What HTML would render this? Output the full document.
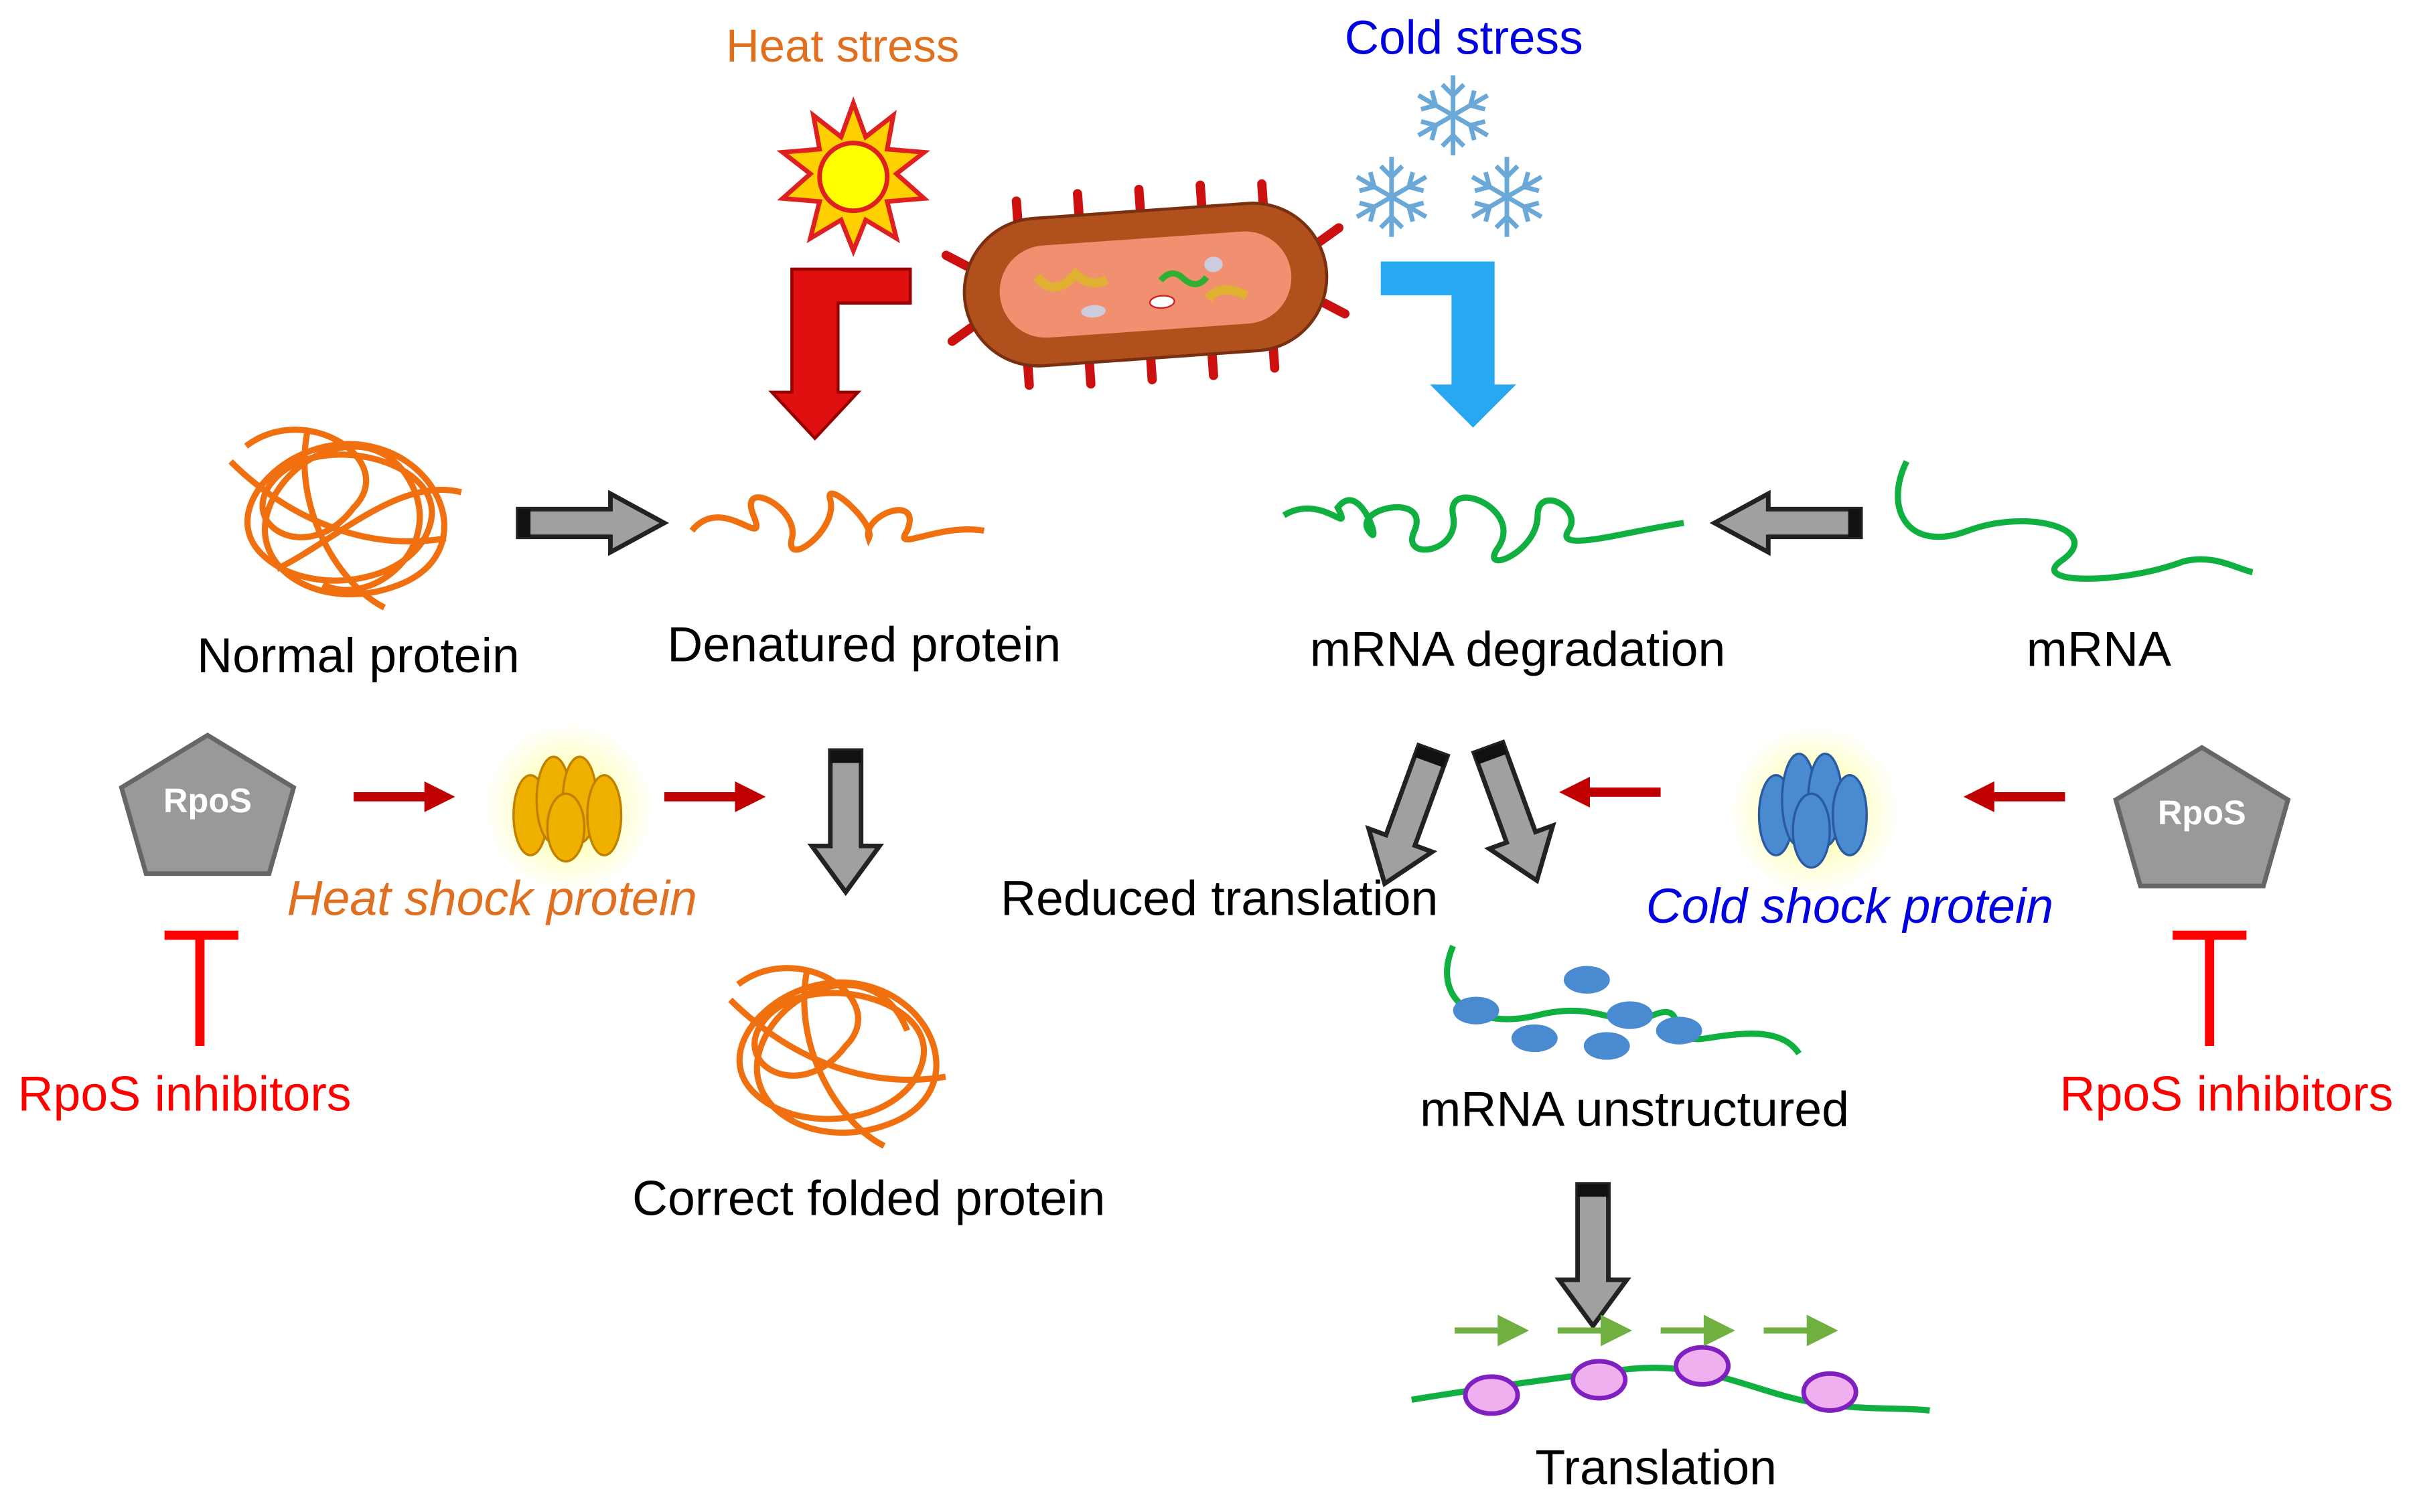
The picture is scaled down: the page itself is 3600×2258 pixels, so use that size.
<!DOCTYPE html>
<html><head><meta charset="utf-8"><style>
html,body{margin:0;padding:0;background:#fff;width:3600px;height:2258px;overflow:hidden}
svg{display:block}
text{font-family:"Liberation Sans",Arial,sans-serif}
</style></head><body>
<svg width="3600" height="2258" viewBox="0 0 1568 983" preserveAspectRatio="none" xmlns="http://www.w3.org/2000/svg">
<defs>
<radialGradient id="gy" cx="50%" cy="50%" r="50%"><stop offset="0%" stop-color="#ffff80" stop-opacity="0.9"/><stop offset="100%" stop-color="#ffff80" stop-opacity="0"/></radialGradient>
<g id="arrR"><polygon points="0,-9 60,-9 60,-19 95,0 60,19 60,9 0,9" fill="#a0a0a0" stroke="#222" stroke-width="3"/><rect x="0" y="-9" width="8" height="18" fill="#111"/></g>
<g id="arrD"><polygon points="-10,0 10,0 10,62 22,62 0,92 -22,62 -10,62" fill="#a0a0a0" stroke="#222" stroke-width="3"/><rect x="-10" y="0" width="20" height="8" fill="#111"/></g>
<g id="redA"><line x1="0" y1="0" x2="48" y2="0" stroke="#c00000" stroke-width="6"/><polygon points="46,-10 66,0 46,10" fill="#c00000"/></g>
<g id="snow" stroke="#6aa8d8" stroke-width="3" fill="none">
<g id="sb"><line x1="0" y1="-26" x2="0" y2="26"/><path d="M-7,-20 L0,-13 L7,-20 M-7,20 L0,13 L7,20"/></g>
<use href="#sb" transform="rotate(60)"/><use href="#sb" transform="rotate(120)"/></g>
</defs>

<text x="548" y="40" font-size="30" fill="#e07020" text-anchor="middle">Heat stress</text>
<text x="952" y="35" font-size="31" fill="#0000e0" text-anchor="middle">Cold stress</text>

<g transform="translate(555,115)">
<polygon points="0,-48 8,-26 26,-40 22,-18 46,-16 28,-2 46,14 22,16 28,40 8,28 0,48 -8,28 -28,40 -22,16 -46,14 -28,-2 -46,-16 -22,-18 -26,-40 -8,-26" fill="#ffd000" stroke="#e02020" stroke-width="3"/>
<circle r="22" fill="#ffff00" stroke="#e02020" stroke-width="3"/>
</g>
<use href="#snow" transform="translate(945,75)"/>
<use href="#snow" transform="translate(905,128)"/>
<use href="#snow" transform="translate(980,128)"/>

<g transform="translate(745,185) rotate(-4)">
<g stroke="#cc1010" stroke-width="6" stroke-linecap="round">
<line x1="-80" y1="-45" x2="-80" y2="-60"/><line x1="-40" y1="-48" x2="-40" y2="-62"/><line x1="0" y1="-48" x2="0" y2="-62"/><line x1="40" y1="-48" x2="40" y2="-62"/><line x1="80" y1="-45" x2="80" y2="-60"/>
<line x1="-80" y1="45" x2="-80" y2="60"/><line x1="-40" y1="48" x2="-40" y2="62"/><line x1="0" y1="48" x2="0" y2="62"/><line x1="40" y1="48" x2="40" y2="62"/><line x1="80" y1="45" x2="80" y2="60"/>
<line x1="-115" y1="-20" x2="-128" y2="-28"/><line x1="-115" y1="20" x2="-128" y2="28"/><line x1="115" y1="-20" x2="128" y2="-28"/><line x1="115" y1="20" x2="128" y2="28"/>
</g>
<rect x="-118" y="-48" width="236" height="96" rx="48" fill="#b0501c" stroke="#7a3010" stroke-width="2"/>
<rect x="-95" y="-30" width="190" height="60" rx="30" fill="#f09070"/>
<path d="M-70,-10 q10,15 25,0 q10,10 20,5" stroke="#e0b030" stroke-width="6" fill="none"/>
<path d="M10,-2 q8,-8 15,0 q8,8 15,0" stroke="#30b030" stroke-width="4" fill="none"/>
<path d="M40,12 q10,-10 25,0" stroke="#e0b030" stroke-width="6" fill="none"/>
<ellipse cx="-35" cy="15" rx="8" ry="4" fill="#ccd"/><ellipse cx="10" cy="12" rx="8" ry="4" fill="#fff" stroke="#d02020"/><ellipse cx="45" cy="-10" rx="6" ry="5" fill="#ccd"/>
</g>

<polygon points="592,175 592,197 545,197 545,255 558,255 530,285 502,255 515,255 515,175" fill="#e01010" stroke="#900" stroke-width="2"/>
<polygon points="898,170 898,192 944,192 944,250 930,250 958,278 986,250 972,250 972,170" fill="#28a8f0"/>

<g stroke="#f07010" stroke-width="4" fill="none">
<path d="M160,290 C200,260 260,300 230,330 C200,370 150,340 180,310 C210,280 290,300 280,340 C270,380 200,390 170,360 C140,330 190,280 240,290 C290,300 310,360 260,380 C210,400 160,370 175,330 C190,290 250,270 270,320 C285,360 240,395 210,380"/>
<path d="M150,300 C180,330 230,360 290,350 M200,280 C190,330 220,380 250,395 M180,370 C220,350 260,310 300,320"/>
</g>
<use href="#arrR" transform="translate(337,340)"/>
<path d="M450,345 C470,320 500,360 490,335 C480,310 520,330 515,350 C510,370 545,345 540,325 C535,310 570,340 565,350 C560,335 600,320 590,345 C580,360 610,340 640,345" stroke="#f07010" stroke-width="4" fill="none"/>

<path d="M835,335 C860,320 880,350 870,330 C885,310 900,360 890,345 C880,330 930,320 920,345 C910,365 950,360 945,335 C940,310 990,330 975,355 C960,375 1000,360 1000,335 C1000,315 1030,330 1020,345 C1010,360 1060,345 1095,340" stroke="#10b040" stroke-width="4" fill="none"/>
<use href="#arrR" transform="translate(1210,340) scale(-1,1)"/>
<path d="M1240,300 C1225,330 1240,360 1280,345 C1320,330 1370,345 1340,365 C1320,380 1380,380 1420,365 C1440,360 1455,370 1465,372" stroke="#10b040" stroke-width="4" fill="none"/>

<g font-size="32" fill="#000" text-anchor="middle">
<text x="233" y="437">Normal protein</text>
<text x="562" y="430">Denatured protein</text>
<text x="987" y="433">mRNA degradation</text>
<text x="1365" y="433">mRNA</text>
<text x="793" y="595">Reduced translation</text>
<text x="1063" y="732">mRNA unstructured</text>
<text x="565" y="790">Correct folded protein</text>
<text x="1077" y="965">Translation</text>
</g>

<g transform="translate(135,520)"><polygon points="0,-42 56,-8 40,48 -40,48 -56,-8" fill="#999" stroke="#666" stroke-width="3"/><text y="8" font-size="22" font-weight="bold" fill="#fff" text-anchor="middle">RpoS</text></g>
<g transform="translate(1432,528)"><polygon points="0,-42 56,-8 40,48 -40,48 -56,-8" fill="#999" stroke="#666" stroke-width="3"/><text y="8" font-size="22" font-weight="bold" fill="#fff" text-anchor="middle">RpoS</text></g>

<use href="#redA" transform="translate(230,518)"/>
<use href="#redA" transform="translate(432,518)"/>
<use href="#redA" transform="translate(1080,515) scale(-1,1)"/>
<use href="#redA" transform="translate(1343,518) scale(-1,1)"/>

<circle cx="370" cy="525" r="55" fill="url(#gy)"/>
<g fill="#f0b000" stroke="#c08000" stroke-width="1.5">
<ellipse cx="345" cy="530" rx="11" ry="26"/><ellipse cx="360" cy="520" rx="11" ry="28"/><ellipse cx="377" cy="520" rx="11" ry="28"/><ellipse cx="393" cy="530" rx="11" ry="26"/><ellipse cx="368" cy="538" rx="12" ry="22"/>
</g>
<circle cx="1180" cy="527" r="55" fill="url(#gy)"/>
<g fill="#4a8ad0" stroke="#2a5aa0" stroke-width="1.5">
<ellipse cx="1155" cy="530" rx="11" ry="26"/><ellipse cx="1170" cy="520" rx="11" ry="30"/><ellipse cx="1187" cy="520" rx="11" ry="30"/><ellipse cx="1203" cy="530" rx="11" ry="26"/><ellipse cx="1178" cy="540" rx="12" ry="24"/>
</g>
<text x="320" y="595" font-size="32" font-style="italic" fill="#e07020" text-anchor="middle">Heat shock protein</text>
<text x="1203" y="600" font-size="32" font-style="italic" fill="#0000e0" text-anchor="middle">Cold shock protein</text>

<g stroke="#ff0000" stroke-width="6"><line x1="130" y1="608" x2="130" y2="680"/><line x1="107" y1="608" x2="155" y2="608"/>
<line x1="1437" y1="608" x2="1437" y2="680"/><line x1="1413" y1="608" x2="1461" y2="608"/></g>
<text x="120" y="722" font-size="32" fill="#ff0000" text-anchor="middle">RpoS inhibitors</text>
<text x="1448" y="722" font-size="32" fill="#ff0000" text-anchor="middle">RpoS inhibitors</text>

<use href="#arrD" transform="translate(550,488)"/>
<g stroke="#f07010" stroke-width="4" fill="none">
<path d="M480,640 C520,610 580,650 550,680 C520,720 470,690 500,660 C530,630 610,650 600,690 C590,730 520,740 490,710 C460,680 510,630 560,640 C610,650 630,710 580,730 C530,750 480,720 495,680 C510,640 570,620 590,670"/>
<path d="M475,650 C505,680 555,710 615,700 M525,630 C515,680 545,730 575,745"/>
</g>

<use href="#arrD" transform="translate(932,488) rotate(20)"/>
<use href="#arrD" transform="translate(968,486) rotate(-20)"/>

<path d="M945,615 C930,650 960,670 1000,660 C1040,650 1050,670 1075,660 C1100,650 1080,680 1110,675 C1140,670 1160,670 1170,685" stroke="#10b040" stroke-width="4" fill="none"/>
<g fill="#4a8ad0"><ellipse cx="960" cy="657" rx="15" ry="9"/><ellipse cx="1032" cy="637" rx="15" ry="9"/><ellipse cx="1060" cy="660" rx="15" ry="9"/><ellipse cx="1092" cy="670" rx="15" ry="9"/><ellipse cx="998" cy="675" rx="15" ry="9"/><ellipse cx="1045" cy="680" rx="15" ry="9"/></g>

<use href="#arrD" transform="translate(1036,770)"/>
<path d="M918,910 C980,900 1020,895 1060,890 C1110,885 1140,905 1180,912 C1210,917 1240,915 1255,917" stroke="#10b040" stroke-width="4" fill="none"/>
<g fill="#f0b0f0" stroke="#8020c0" stroke-width="3"><ellipse cx="970" cy="907" rx="17" ry="12"/><ellipse cx="1040" cy="897" rx="17" ry="12"/><ellipse cx="1107" cy="888" rx="17" ry="12"/><ellipse cx="1190" cy="905" rx="17" ry="12"/></g>
<g fill="#70b040" stroke="#70b040" stroke-width="4">
<line x1="946" y1="865" x2="976" y2="865"/><polygon points="976,858 990,865 976,872"/>
<line x1="1013" y1="865" x2="1043" y2="865"/><polygon points="1043,858 1057,865 1043,872"/>
<line x1="1080" y1="865" x2="1110" y2="865"/><polygon points="1110,858 1124,865 1110,872"/>
<line x1="1147" y1="865" x2="1177" y2="865"/><polygon points="1177,858 1191,865 1177,872"/>
</g>
</svg>
</body></html>
